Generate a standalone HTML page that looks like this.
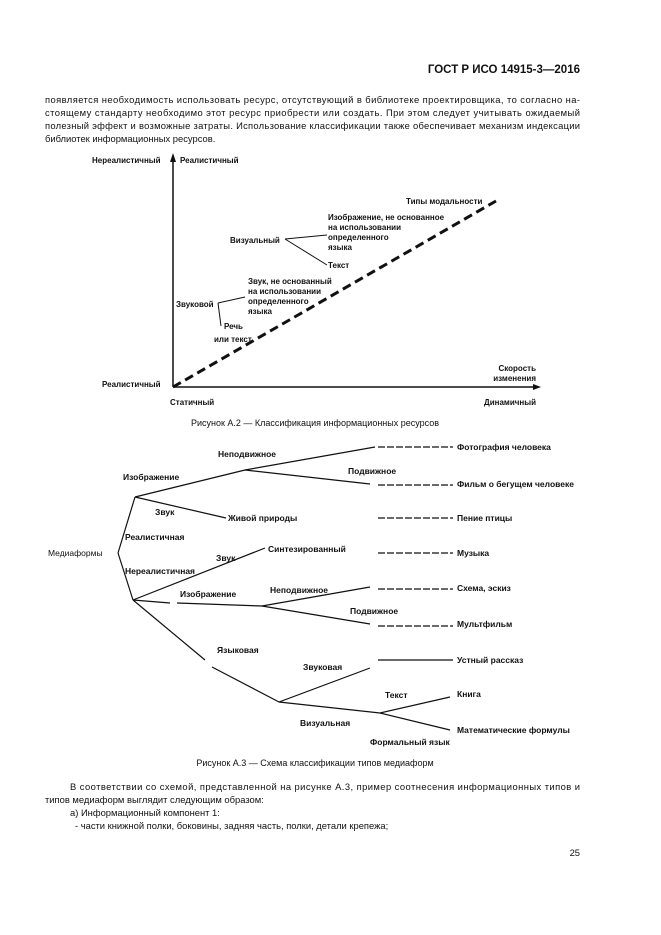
<!DOCTYPE html>
<html><head><meta charset="utf-8"><style>
html,body{margin:0;padding:0;background:#fff}
svg{display:block}
text{font-family:"Liberation Sans",sans-serif;fill:#111}
.b{font-size:9.4px}
.d{font-size:8px;font-weight:bold}
.c{font-size:9px}
</style></head><body>
<svg width="661" height="935" viewBox="0 0 661 935" xmlns="http://www.w3.org/2000/svg">
<text x="580" y="73" text-anchor="end" font-size="11.5" font-weight="bold">ГОСТ Р ИСО 14915-3—2016</text>
<text class="b" x="45" y="103" textLength="535" lengthAdjust="spacing">появляется необходимость использовать ресурс, отсутствующий в библиотеке проектировщика, то согласно на-</text>
<text class="b" x="45" y="116" textLength="535" lengthAdjust="spacing">стоящему стандарту необходимо этот ресурс приобрести или создать. При этом следует учитывать ожидаемый</text>
<text class="b" x="45" y="129" textLength="535" lengthAdjust="spacing">полезный эффект и возможные затраты. Использование классификации также обеспечивает механизм индексации</text>
<text class="b" x="45" y="142">библиотек информационных ресурсов.</text>

<!-- Figure A.2 -->
<g stroke="#111" fill="none">
<line x1="173" y1="387" x2="173" y2="160" stroke-width="1.5"/>
<line x1="173" y1="387" x2="536" y2="387" stroke-width="1.5"/>
<line x1="173" y1="387" x2="496" y2="201" stroke-width="3" stroke-dasharray="9,5"/>
<polyline points="285,239 327,235"/>
<polyline points="285,239 327,265"/>
<polyline points="218,303 245,297"/>
<polyline points="218,303 221,326"/>
</g>
<polygon points="173,153 170,162 176,162" fill="#111"/>
<polygon points="541,387 533,384 533,390" fill="#111"/>
<text class="d" x="92" y="163">Нереалистичный</text>
<text class="d" x="180" y="163">Реалистичный</text>
<text class="d" x="406" y="204">Типы модальности</text>
<text class="d" x="328" y="220">Изображение, не основанное</text>
<text class="d" x="328" y="230">на использовании</text>
<text class="d" x="328" y="240">определенного</text>
<text class="d" x="328" y="250">языка</text>
<text class="d" x="230" y="243">Визуальный</text>
<text class="d" x="328" y="268">Текст</text>
<text class="d" x="248" y="284">Звук, не основанный</text>
<text class="d" x="248" y="294">на использовании</text>
<text class="d" x="248" y="304">определенного</text>
<text class="d" x="248" y="314">языка</text>
<text class="d" x="176" y="307">Звуковой</text>
<text class="d" x="224" y="329">Речь</text>
<text class="d" x="214" y="342">или текст</text>
<text class="d" x="536" y="371" text-anchor="end">Скорость</text>
<text class="d" x="536" y="381" text-anchor="end">изменения</text>
<text class="d" x="102" y="387">Реалистичный</text>
<text class="d" x="170" y="405">Статичный</text>
<text class="d" x="536" y="405" text-anchor="end">Динамичный</text>
<text class="c" x="315" y="426" text-anchor="middle">Рисунок А.2 — Классификация информационных ресурсов</text>

<!-- Figure A.3 -->
<g stroke="#111" fill="none" stroke-width="1.2">
<polyline points="118,553 135,497"/>
<polyline points="118,553 133,600"/>
<polyline points="135,497 245,470 375,447"/>
<polyline points="245,470 370,484"/>
<polyline points="135,497 226,518"/>
<polyline points="133,600 265,548"/>
<polyline points="133,600 170,603"/>
<polyline points="177,603 262,606 370,587"/>
<polyline points="262,606 370,624"/>
<polyline points="133,600 205,660"/>
<polyline points="212,667 279,702 370,668"/>
<polyline points="279,702 380,713 450,697"/>
<polyline points="380,713 450,730"/>
<line x1="378" y1="660" x2="453" y2="660"/>
<g stroke-dasharray="7,2">
<line x1="378" y1="447" x2="453" y2="447"/>
<line x1="378" y1="485" x2="453" y2="485"/>
<line x1="378" y1="518" x2="453" y2="518"/>
<line x1="378" y1="553" x2="453" y2="553"/>
<line x1="378" y1="589" x2="453" y2="589"/>
<line x1="378" y1="626" x2="453" y2="626"/>
</g>
</g>
<g class="d">
<text x="48" y="556" font-weight="normal" font-size="8.5">Медиаформы</text>
<text x="218" y="457" font-size="8.5">Неподвижное</text>
<text x="123" y="480" font-size="8.5">Изображение</text>
<text x="348" y="474" font-size="8.5">Подвижное</text>
<text x="155" y="515" font-size="8.5">Звук</text>
<text x="228" y="521" font-size="8.5">Живой природы</text>
<text x="125" y="540" font-size="8.5">Реалистичная</text>
<text x="125" y="574" font-size="8.5">Нереалистичная</text>
<text x="268" y="552" font-size="8.5">Синтезированный</text>
<text x="216" y="561" font-size="8.5">Звук</text>
<text x="180" y="597" font-size="8.5">Изображение</text>
<text x="270" y="593" font-size="8.5">Неподвижное</text>
<text x="350" y="614" font-size="8.5">Подвижное</text>
<text x="217" y="653" font-size="8.5">Языковая</text>
<text x="303" y="670" font-size="8.5">Звуковая</text>
<text x="385" y="698" font-size="8.5">Текст</text>
<text x="300" y="726" font-size="8.5">Визуальная</text>
<text x="370" y="745" font-size="8.5">Формальный язык</text>
<text x="457" y="450" font-size="8.5">Фотография человека</text>
<text x="457" y="487" font-size="8.5">Фильм о бегущем человеке</text>
<text x="457" y="521" font-size="8.5">Пение птицы</text>
<text x="457" y="556" font-size="8.5">Музыка</text>
<text x="457" y="591" font-size="8.5">Схема, эскиз</text>
<text x="457" y="627" font-size="8.5">Мультфильм</text>
<text x="457" y="663" font-size="8.5">Устный рассказ</text>
<text x="457" y="697" font-size="8.5">Книга</text>
<text x="457" y="733" font-size="8.5">Математические формулы</text>
</g>
<text class="c" x="315" y="766" text-anchor="middle">Рисунок А.3 — Схема классификации типов медиаформ</text>
<text class="b" x="70" y="790" textLength="510" lengthAdjust="spacing">В соответствии со схемой, представленной на рисунке А.3, пример соотнесения информационных типов и</text>
<text class="b" x="45" y="803">типов медиаформ выглядит следующим образом:</text>
<text class="b" x="70" y="816">а) Информационный компонент 1:</text>
<text class="b" x="75" y="829">-  части книжной полки, боковины, задняя часть, полки, детали крепежа;</text>
<text class="b" x="580" y="856" text-anchor="end">25</text>
</svg>
</body></html>
